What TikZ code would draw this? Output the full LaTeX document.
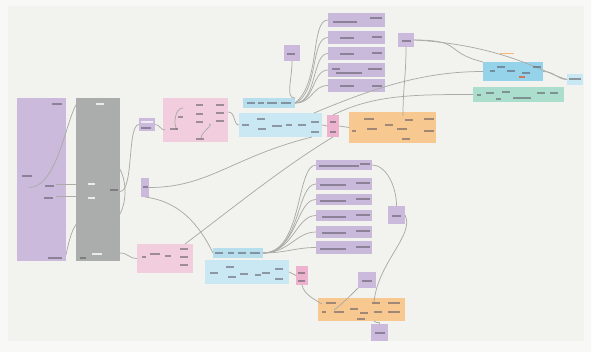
\documentclass[tikz,border=0pt]{standalone}
\usetikzlibrary{calc}
\definecolor{paper}{HTML}{F8F8F6}
\definecolor{canvas}{HTML}{F2F2EE}
\definecolor{wirec}{HTML}{ABABA8}
\definecolor{markc}{HTML}{5A5560}
\definecolor{lilac}{HTML}{CBBADB}
\definecolor{lilacbar}{HTML}{C9BADC}
\definecolor{slate}{HTML}{ABADAD}
\definecolor{rose}{HTML}{F2CDDE}
\definecolor{roseD}{HTML}{EDB2CD}
\definecolor{sky}{HTML}{CAE8F3}
\definecolor{skyD}{HTML}{B6DEEC}
\definecolor{cyanD}{HTML}{95D3EA}
\definecolor{mint}{HTML}{ACDECE}
\definecolor{apricot}{HTML}{F8C891}
\newcommand\blk[6]{%
  \pgfmathsetmacro\bw{#5-#3}\pgfmathsetmacro\bh{#6-#4}%
  \node[blockbox,fill=#2,minimum width=\bw pt,minimum height=\bh pt] (#1) at (#3,#4) {};}
\newcommand\tmk[3]{\fill[portmark] (#1,#2) rectangle ++(#3,1.7);}
\newcommand\tml[3]{\fill[portlight] (#1,#2) rectangle ++(#3,2.2);}
\begin{document}
\begin{tikzpicture}[x=1pt,y=-1pt,
  blockbox/.style={draw=none,anchor=north west,inner sep=0pt,outer sep=0pt},
  wire/.style={draw=wirec,line width=0.75pt},
  portmark/.style={fill=markc,opacity=0.55},
  portlight/.style={fill=white,opacity=0.75}]
% sheet
\fill[paper] (0,0) rectangle (591,352);
\fill[canvas] (8,6) rectangle (584,341);
\useasboundingbox (0,0) rectangle (591,352);

% ---------- blocks ----------
\blk{inA}{lilac}{17}{98}{66}{261}
\blk{inB}{slate}{76}{98}{120}{261}
\blk{sA}{lilac}{139}{118}{155}{131}
\blk{pkA}{rose}{163}{98}{228}{142}
\blk{btA}{skyD}{243}{98}{295}{108}
\blk{bA}{sky}{239}{113}{322}{137}
\blk{spA}{roseD}{327}{115}{339}{137}
\blk{orA}{apricot}{349}{112}{436}{143}
\blk{tA}{lilacbar}{328}{13}{385}{27}
\blk{tB}{lilacbar}{328}{31}{385}{44}
\blk{tC}{lilacbar}{328}{47}{385}{60}
\blk{tD}{lilacbar}{328}{63}{385}{77}
\blk{tE}{lilacbar}{328}{79}{385}{92}
\blk{sB}{lilac}{284}{45}{300}{61}
\blk{sC}{lilac}{398}{33}{414}{47}
\blk{cy}{cyanD}{483}{62}{543}{81}
\blk{sD}{sky}{567}{74}{583}{85}
\blk{gr}{mint}{473}{87}{564}{102}
\blk{sV}{lilac}{141}{178}{149}{197}
\blk{pkB}{rose}{137}{244}{193}{273}
\blk{btB}{skyD}{213}{248}{263}{258}
\blk{bB}{sky}{205}{260}{289}{284}
\blk{spB}{roseD}{296}{266}{308}{285}
\blk{lA}{lilacbar}{316}{160}{372}{170}
\blk{lB}{lilacbar}{316}{178}{372}{190}
\blk{lC}{lilacbar}{316}{194}{372}{205}
\blk{lD}{lilacbar}{316}{210}{372}{221}
\blk{lE}{lilacbar}{316}{226}{372}{238}
\blk{lF}{lilacbar}{316}{241}{372}{254}
\blk{sE}{lilac}{388}{206}{405}{224}
\blk{sF}{lilac}{358}{272}{376}{288}
\blk{orB}{apricot}{318}{298}{405}{321}
\blk{sG}{lilac}{371}{324}{388}{341}

% ---------- connectors ----------
% input panels
\draw[wire] ($(inA.west)+(12,8)$) .. controls +(30,0) and +(-12,10) .. ($(inB.north west)+(3,3)$);
\draw[wire] ($(inA.east)+(-10,5)$) -- ($(inB.west)+(14,5)$);
\draw[wire] ($(inA.east)+(-10,17)$) -- ($(inB.west)+(17,17)$);
\draw[wire] ($(inB.north west)+(12,5)$) .. controls +(0,50) and +(0,-40) .. ($(inB.east)+(5,12)$);
\draw[wire] ($(inB.east)+(5,12)$) .. controls +(0,35) and +(10,-25) .. ($(inB.south west)+(12,-6)$);
\draw[wire] ($(inB.east)+(0,12)$) .. controls +(14,0) and +(-12,0) .. (sA.west);
\draw[wire] ($(inB.south east)+(0,-8)$) .. controls +(8,0) and +(-8,0) .. (pkB.west);
\draw[wire] ($(inA.south east)+(0,-6)$) .. controls +(8,-40) and +(-8,30) .. ($(inB.west)+(10,22)$);
% upper chain
\draw[wire] (sA.east) .. controls +(5,0) and +(-5,0) .. ($(pkA.south west)+(2,-12)$);
\draw[wire] ($(pkA.north west)+(20,10)$) .. controls +(-8,0) and +(-4,-6) .. ($(pkA.south west)+(14,-12)$);
\draw[wire] ($(pkA.north west)+(46,26)$) .. controls +(6,0) and +(0,-6) .. ($(pkA.south west)+(38,-4)$);
\draw[wire] ($(pkA.east)+(0,-8)$) .. controls +(8,0) and +(-6,0) .. (bA.west);
\draw[wire] (btA.east) .. controls +(18,0) and +(-16,0) .. (tE.west);
\draw[wire] (btA.east) .. controls +(20,0) and +(-16,0) .. (tD.west);
\draw[wire] (btA.east) .. controls +(22,0) and +(-16,0) .. (tC.west);
\draw[wire] (btA.east) .. controls +(24,-10) and +(-18,0) .. (tB.west);
\draw[wire] (btA.east) .. controls +(26,-20) and +(-18,0) .. (tA.west);
\draw[wire] (sB.south) .. controls +(0,20) and +(-10,0) .. (btA.north east);
\draw[wire] (bA.east) -- (spA.west);
\draw[wire] (spA.east) -- (orA.west);
\draw[wire] (sC.south) .. controls +(0,30) and +(0,-30) .. ($(orA.north west)+(54,4)$);
\draw[wire] (sC.east) .. controls +(50,0) and +(-40,-10) .. (cy.north west);
\draw[wire] (sC.east) .. controls +(90,5) and +(-20,-5) .. (sD.west);
\draw[wire] ($(bA.north east)+(-8,0)$) .. controls +(60,-25) and +(-60,0) .. (cy.west);
\draw[wire] (spA.north) .. controls +(40,-20) and +(-60,0) .. (gr.west);
\draw[wire] (cy.east) .. controls +(12,0) and +(-10,0) .. (sD.west);
\draw[wire] (sV.east) .. controls +(60,0) and +(-80,20) .. ($(bA.south east)+(-10,0)$);
\draw[wire] ($(pkB.north east)+(-8,0)$) .. controls +(40,-30) and +(-50,30) .. (spA.south);
\draw[wire] (sV.south) .. controls +(40,5) and +(-10,-20) .. (btB.west);
% lower chain
\draw[wire] (btB.east) .. controls +(40,0) and +(-20,0) .. (lA.west);
\draw[wire] (btB.east) .. controls +(38,0) and +(-20,0) .. (lB.west);
\draw[wire] (btB.east) .. controls +(34,0) and +(-20,0) .. (lC.west);
\draw[wire] (btB.east) .. controls +(30,0) and +(-20,0) .. (lD.west);
\draw[wire] (btB.east) .. controls +(26,0) and +(-20,0) .. (lE.west);
\draw[wire] (btB.east) .. controls +(22,0) and +(-20,0) .. (lF.west);
\draw[wire] (bB.east) -- (spB.west);
\draw[wire] (spB.south) .. controls +(2,10) and +(-6,-4) .. ($(orB.north west)+(4,6)$);
\draw[wire] (lA.east) .. controls +(14,0) and +(0,-20) .. (sE.north);
\draw[wire] (sE.east) .. controls +(10,20) and +(4,-40) .. ($(orB.north west)+(56,4)$);
\draw[wire] (sF.south west) .. controls +(-10,10) and +(8,-6) .. ($(orB.north west)+(16,12)$);
\draw[wire] ($(orB.south west)+(56,0)$) .. controls +(4,4) and +(0,-4) .. (sG.north);

% ---------- port labels ----------
% input panels
\tmk{52}{103}{10}\tmk{22}{175}{10}\tmk{45}{185}{9}\tmk{44}{197}{9}\tmk{48}{257}{14}
\tml{96}{103}{8}\tml{88}{183}{7}\tml{88}{197}{7}\tml{92}{253}{10}
\tmk{110}{189}{8}\tmk{80}{257}{6}
% upper chain
\tml{141}{121}{12}\tmk{141}{127}{10}
\tmk{196}{104}{7}\tmk{196}{113}{7}\tmk{196}{121}{7}\tmk{216}{104}{8}\tmk{216}{112}{8}\tmk{216}{120}{8}
\tmk{178}{116}{5}\tmk{170}{128}{8}\tmk{196}{138}{8}
\tmk{247}{102}{8}\tmk{258}{102}{6}\tmk{267}{102}{10}\tmk{281}{102}{10}
\tmk{242}{124}{7}\tmk{257}{118}{8}\tmk{258}{128}{8}\tmk{272}{125}{10}\tmk{286}{124}{6}
\tmk{298}{124}{8}\tmk{311}{121}{8}\tmk{311}{131}{8}
\tmk{330}{121}{6}\tmk{330}{131}{6}
\tmk{364}{118}{10}\tmk{352}{130}{4}\tmk{367}{128}{10}\tmk{385}{124}{8}\tmk{397}{128}{10}
\tmk{405}{119}{8}\tmk{424}{118}{10}\tmk{424}{130}{10}\tmk{402}{138}{8}
\tmk{333}{21}{24}\tmk{370}{17}{12}
\tmk{340}{37}{14}\tmk{372}{36}{10}
\tmk{340}{53}{14}\tmk{372}{52}{10}
\tmk{332}{68}{8}\tmk{336}{72}{26}\tmk{368}{68}{14}
\tmk{340}{85}{14}\tmk{372}{85}{10}
\tmk{287}{53}{8}\tmk{402}{40}{9}
\tmk{490}{70}{5}\tmk{497}{66}{8}\tmk{507}{70}{8}\tmk{522}{72}{8}\tmk{533}{66}{8}
\fill[red!60!orange,opacity=0.6] (519,76) rectangle ++(6,2);
\fill[orange,opacity=0.5] (500,53) rectangle ++(14,1.2);
\tmk{569}{78}{12}
\tmk{477}{94}{4}\tmk{486}{92}{8}\tmk{502}{91}{8}\tmk{496}{98}{5}\tmk{513}{97}{18}\tmk{537}{92}{8}\tmk{550}{92}{8}
% lower chain
\tmk{143}{186}{5}
\tmk{142}{256}{4}\tmk{150}{253}{10}\tmk{165}{255}{6}\tmk{180}{248}{8}\tmk{180}{256}{8}\tmk{180}{264}{8}
\tmk{215}{252}{8}\tmk{228}{252}{6}\tmk{238}{252}{8}\tmk{250}{252}{10}
\tmk{210}{272}{8}\tmk{226}{266}{8}\tmk{228}{276}{8}\tmk{240}{273}{8}\tmk{255}{274}{6}
\tmk{262}{272}{8}\tmk{275}{268}{8}\tmk{275}{278}{8}
\tmk{298}{272}{7}\tmk{298}{280}{7}
\tmk{319}{165}{40}\tmk{360}{163}{10}
\tmk{320}{184}{26}\tmk{356}{182}{14}
\tmk{320}{200}{26}\tmk{356}{198}{14}
\tmk{322}{216}{24}\tmk{356}{214}{14}
\tmk{322}{232}{24}\tmk{356}{230}{14}
\tmk{320}{248}{26}\tmk{356}{246}{14}
\tmk{392}{215}{9}\tmk{362}{280}{10}\tmk{375}{332}{10}
\tmk{326}{302}{10}\tmk{322}{311}{4}\tmk{334}{311}{10}\tmk{350}{308}{8}\tmk{360}{312}{8}
\tmk{372}{302}{8}\tmk{374}{311}{8}\tmk{388}{302}{12}\tmk{388}{311}{12}\tmk{357}{318}{8}
\end{tikzpicture}
\end{document}
